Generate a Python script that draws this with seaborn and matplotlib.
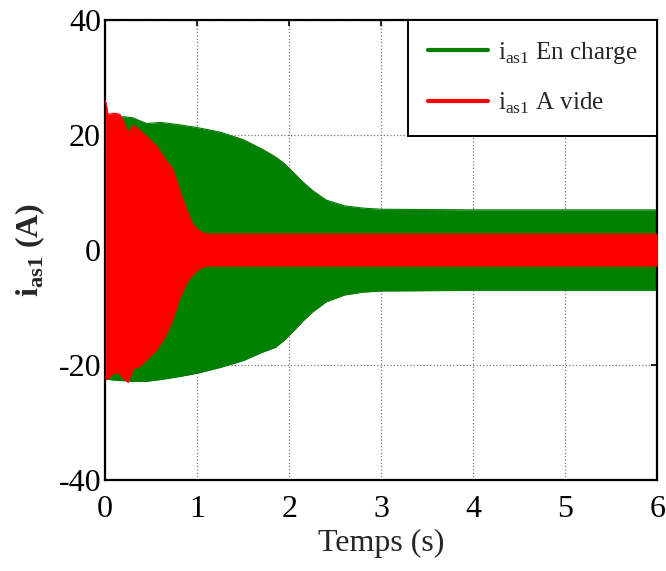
import numpy as np
import pandas as pd
import matplotlib
matplotlib.use("Agg")
import matplotlib.pyplot as plt
from matplotlib.lines import Line2D
import seaborn as sns

# Envelope of i_as1 under load (green)
green_t = [0, 0.1, 0.2, 0.3, 0.45, 0.6, 0.8, 1.0, 1.25, 1.5, 1.7, 1.85, 1.95, 2.05, 2.15, 2.25, 2.4, 2.6, 2.8, 3.0, 4.0, 5.0, 6.0]
green_up = [22.5, 22.8, 23.2, 23.0, 22.0, 22.2, 21.8, 21.3, 20.5, 19.2, 17.6, 16.2, 15.0, 13.4, 11.8, 10.4, 8.7, 7.7, 7.3, 7.1, 7.0, 7.0, 7.0]
green_lo = [-22.4, -22.6, -22.7, -22.8, -22.8, -22.5, -22.0, -21.4, -20.4, -19.2, -17.8, -16.9, -15.6, -14.0, -12.3, -10.8, -9.0, -7.8, -7.3, -7.1, -7.0, -7.0, -7.0]

# Envelope of i_as1 at no load (red)
red_t = [0, 0.01, 0.03, 0.1, 0.16, 0.2, 0.25, 0.31, 0.38, 0.45, 0.56, 0.66, 0.74, 0.81, 0.89, 0.95, 1.02, 1.1, 2, 3, 4, 5, 6]
red_up = [26, 25.5, 23.6, 23.8, 23.6, 22.5, 20.4, 21.7, 20.8, 19.8, 18.1, 15.7, 14.0, 10.5, 6.9, 4.6, 3.4, 2.8, 2.8, 2.8, 2.8, 2.8, 2.8]
red_lo = [-22.0, -22.4, -22.4, -21.3, -21.5, -22.3, -23.0, -20.6, -20.2, -19.1, -17.4, -14.9, -12.0, -8.5, -5.6, -4.4, -3.3, -2.75, -2.75, -2.75, -2.75, -2.75, -2.75]

x_ticks = [0, 1, 2, 3, 4, 5, 6]
y_ticks = [-40, -20, 0, 20, 40]

sns.set_style("white")
plt.rcParams['font.family'] = ['Liberation Serif', 'DejaVu Serif']
plt.rcParams['mathtext.fontset'] = 'custom'
plt.rcParams['mathtext.rm'] = 'Liberation Serif'
plt.rcParams['mathtext.bf'] = 'Liberation Serif:bold'

fig = plt.figure(figsize=(6.66, 5.71), dpi=100)
ax = fig.add_axes([0.158, 0.159, 0.829, 0.806])

GREEN = '#008000'
RED = '#ff0000'

dg = pd.DataFrame({'t': green_t, 'up': green_up, 'lo': green_lo})
dr = pd.DataFrame({'t': red_t, 'up': red_up, 'lo': red_lo})

sns.lineplot(data=dg, x='t', y='up', color=GREEN, lw=0.8, ax=ax, legend=False)
sns.lineplot(data=dg, x='t', y='lo', color=GREEN, lw=0.8, ax=ax, legend=False)
ax.fill_between(dg['t'], dg['lo'], dg['up'], color=GREEN, lw=0, zorder=2)
sns.lineplot(data=dr, x='t', y='up', color=RED, lw=0.8, ax=ax, legend=False, zorder=3)
sns.lineplot(data=dr, x='t', y='lo', color=RED, lw=0.8, ax=ax, legend=False, zorder=3)
ax.fill_between(dr['t'], dr['lo'], dr['up'], color=RED, lw=0, zorder=3)

ax.set_xlim(0, 6)
ax.set_ylim(-40, 40)
ax.set_xticks(x_ticks)
ax.set_yticks(y_ticks)
ax.set_xticklabels([str(v) for v in x_ticks])
ax.set_yticklabels([str(v) for v in y_ticks])
ax.tick_params(direction='in', top=True, right=True, length=4, width=1.2,
               labelsize=23, colors='black')
ax.tick_params(axis='x', pad=11)
ax.tick_params(axis='y', pad=3)
ax.grid(True, color='#777777', linestyle=':', lw=0.9)
ax.set_axisbelow(True)
for s in ax.spines.values():
    s.set_color('black')
    s.set_linewidth(1.6)

ax.set_xlabel('Temps (s)', fontsize=23, labelpad=3)
ax.set_ylabel(r'$\mathbf{i}_{\mathbf{as1}}$ (A)', fontsize=23, fontweight='bold', labelpad=8)

handles = [Line2D([0], [0], color=GREEN, lw=3),
           Line2D([0], [0], color=RED, lw=3)]
labels = [r'$\mathrm{i}_{\mathrm{as1}}$ En charge', r'$\mathrm{i}_{\mathrm{as1}}$ A vide']
leg = ax.legend(handles, labels, loc='upper right', fontsize=18, frameon=True,
                fancybox=False, edgecolor='black', framealpha=1,
                borderaxespad=0, handlelength=2.4, handletextpad=0.4,
                labelspacing=1.0, borderpad=0.8)
leg.get_frame().set_linewidth(1.4)
leg.set_zorder(5)

fig.savefig('out.png', dpi=100)
